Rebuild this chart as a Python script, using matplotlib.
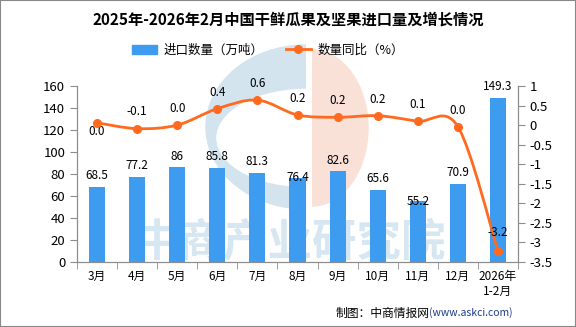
import matplotlib.pyplot as plt
from matplotlib.patches import Rectangle, Ellipse, PathPatch, Patch
from matplotlib.lines import Line2D
from matplotlib.path import Path
import numpy as np

plt.rcParams['font.family'] = ['Noto Sans CJK SC', 'DejaVu Sans']

months = ['3月', '4月', '5月', '6月', '7月', '8月', '9月', '10月', '11月', '12月', '2026年\n1-2月']
volume = [68.5, 77.2, 86, 85.8, 81.3, 76.4, 82.6, 65.6, 55.2, 70.9, 149.3]
volume_labels = ['68.5', '77.2', '86', '85.8', '81.3', '76.4', '82.6', '65.6', '55.2', '70.9', '149.3']
yoy = [0.06, -0.09, 0.0, 0.42, 0.64, 0.26, 0.2, 0.24, 0.1, -0.04, -3.22]
yoy_labels = ['0.0', '-0.1', '0.0', '0.4', '0.6', '0.2', '0.2', '0.2', '0.1', '0.0', '-3.2']

bar_color = '#3d9cf0'
line_color = '#ff6a1f'
axis_color = '#8c8c8c'

fig = plt.figure(figsize=(5.76, 3.27), dpi=100)
ax = fig.add_axes([77 / 576, 1 - 262 / 327, (518 - 77) / 576, (262 - 86) / 327])
ax2 = ax.twinx()

# watermark logo + text (background layer, pixel coords)
wm = fig.add_axes([0, 0, 1, 1], zorder=-1)
wm.set_xlim(0, 576)
wm.set_ylim(327, 0)
wm.axis('off')
left_half = Rectangle((0, 0), 306, 327, transform=wm.transData)
blue_c = Ellipse((306, 127), 200, 164, color='#d3e4ef')
wm.add_patch(blue_c)
blue_c.set_clip_path(left_half)
wm.add_patch(Ellipse((306, 138), 178, 97, color='white'))
right_half = Rectangle((312, 0), 264, 327, transform=wm.transData)
orange_d = Ellipse((312, 128), 112, 156, color='#f9e1d8')
wm.add_patch(orange_d)
orange_d.set_clip_path(right_half)
wm.text(290, 243, '中商产业研究院', fontsize=32, fontweight='bold', color='#d6e7f2',
        ha='center', va='center')
ax.patch.set_alpha(0)
ax2.patch.set_alpha(0)

x = np.arange(len(months))
ax.bar(x, volume, width=0.4, color=bar_color, zorder=2)
ax.set_ylim(0, 160)
ax.set_yticks(range(0, 161, 20))
ax.set_xlim(-0.5, len(months) - 0.5)
ax.set_xticks(x)
ax.set_xticklabels(months, fontsize=8.5)
ax.set_xticks(np.arange(-0.5, len(months), 1), minor=True)
ax.tick_params(axis='x', which='major', length=0, pad=6)
ax.tick_params(axis='x', which='minor', length=5, color=axis_color)
ax.tick_params(axis='y', length=5, color=axis_color, labelsize=9.5)

bar_offsets = [8, 8, 8, 8, 8, 0, 8, 8, 0, 8, 8]
for xi, v, lab, off in zip(x, volume, volume_labels, bar_offsets):
    ax.annotate(lab, (xi, v), xytext=(0, off), textcoords='offset points',
                ha='center', va='center', fontsize=8.5)

# smooth line through the points (cubic bezier, catmull-rom style)
pts = np.column_stack([x, yoy]).astype(float)
verts = [pts[0]]
codes = [Path.MOVETO]
for i in range(len(pts) - 1):
    p0 = pts[max(i - 1, 0)]
    p1 = pts[i]
    p2 = pts[i + 1]
    p3 = pts[min(i + 2, len(pts) - 1)]
    verts += [p1 + (p2 - p0) / 6, p2 - (p3 - p1) / 6, p2]
    codes += [Path.CURVE4] * 3
ax2.add_patch(PathPatch(Path(verts, codes), fill=False, edgecolor=line_color, lw=2, zorder=3))
ax2.plot(x, yoy, ls='none', marker='o', ms=5.5, color=line_color, zorder=4)
ax2.set_ylim(-3.5, 1)
ax2.set_yticks(np.arange(-3.5, 1.01, 0.5))
ax2.set_yticklabels(['-3.5', '-3', '-2.5', '-2', '-1.5', '-1', '-0.5', '0', '0.5', '1'])
ax2.tick_params(axis='y', length=5, color=axis_color, labelsize=9.5)

line_offsets = [(0, -6), (0, 12), (0, 12), (0, 12), (0, 12), (0, 12), (0, 12), (0, 12), (0, 12), (0, 12), (0, 13)]
for xi, v, lab, off in zip(x, yoy, yoy_labels, line_offsets):
    ax2.annotate(lab, (xi, v), xytext=off, textcoords='offset points',
                 ha='center', va='center', fontsize=8.5)

for a in (ax, ax2):
    a.spines['top'].set_visible(False)
    a.spines['left'].set_color(axis_color)
    a.spines['right'].set_color(axis_color)
    a.spines['bottom'].set_color(axis_color)

fig.text(0.5, 1 - 20 / 327, '2025年-2026年2月中国干鲜瓜果及坚果进口量及增长情况',
         ha='center', va='center', fontsize=11, fontweight='bold')
handles = [Patch(color=bar_color),
           Line2D([], [], color=line_color, lw=2, marker='o', ms=5.5)]
fig.legend(handles, ['进口数量（万吨）', '数量同比（%）'], loc='center',
           bbox_to_anchor=(0.465, 1 - 50 / 327), ncol=2, frameon=False, fontsize=9,
           handlelength=2.0, columnspacing=1.8, handletextpad=0.5)

url = fig.text(513 / 576, 1 - 313 / 327, '(www.askci.com)', ha='right', va='center',
               fontsize=7.5, color='#1a3c8c')
plt.annotate('制图：中商情报网', xy=(0, 0.5), xycoords=url, ha='right', va='center',
             fontsize=8.5, color='black')
fig.add_artist(Rectangle((0, 0), 1, 1, transform=fig.transFigure, fill=False,
                         edgecolor='#888888', lw=1.5))

fig.savefig('out.png', dpi=100)
